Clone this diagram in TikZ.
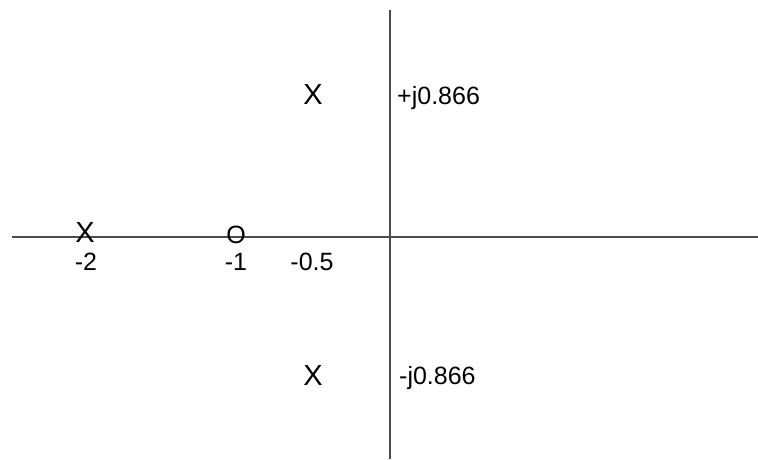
\documentclass[tikz,border=0pt]{standalone}
\usepackage{fontspec}
\setmainfont{Liberation Sans}
\usetikzlibrary{calc,positioning}

\begin{document}
\begin{tikzpicture}[x=1pt,y=-1pt]
  \tikzset{
    axis line/.style={line width=1.8pt,draw=black!70},
    root/.style={font=\fontsize{29}{29}\selectfont,inner sep=0pt},
    value/.style={font=\fontsize{25}{25}\selectfont,inner sep=0pt},
  }
  \useasboundingbox (0,0) rectangle (758,459);
  \coordinate (w) at (12,237);
  \coordinate (e) at (758,237);
  \coordinate (n) at (390,10);
  \coordinate (s) at (390,459);

  \draw[axis line] (w) -- (e);
  \draw[axis line] (n) -- (s);

  \node[root] (p1) at (85,233) {X};
  \node[root,font=\fontsize{25}{25}\selectfont] (z1) at (236,235) {O};
  \node[root] (p2) at (313,95) {X};
  \node[root] (p3) at (313,376) {X};

  \node[value,anchor=base] (l1) at (86,270) {-2};
  \node[value,anchor=base] (l2) at (236,270) {-1};
  \node[value,anchor=base] (l3) at (312,270) {-0.5};
  \node[value,anchor=base west] (l4) at (397,104) {+j0.866};
  \node[value,anchor=base west] (l5) at (399,384) {-j0.866};
\end{tikzpicture}
\end{document}
